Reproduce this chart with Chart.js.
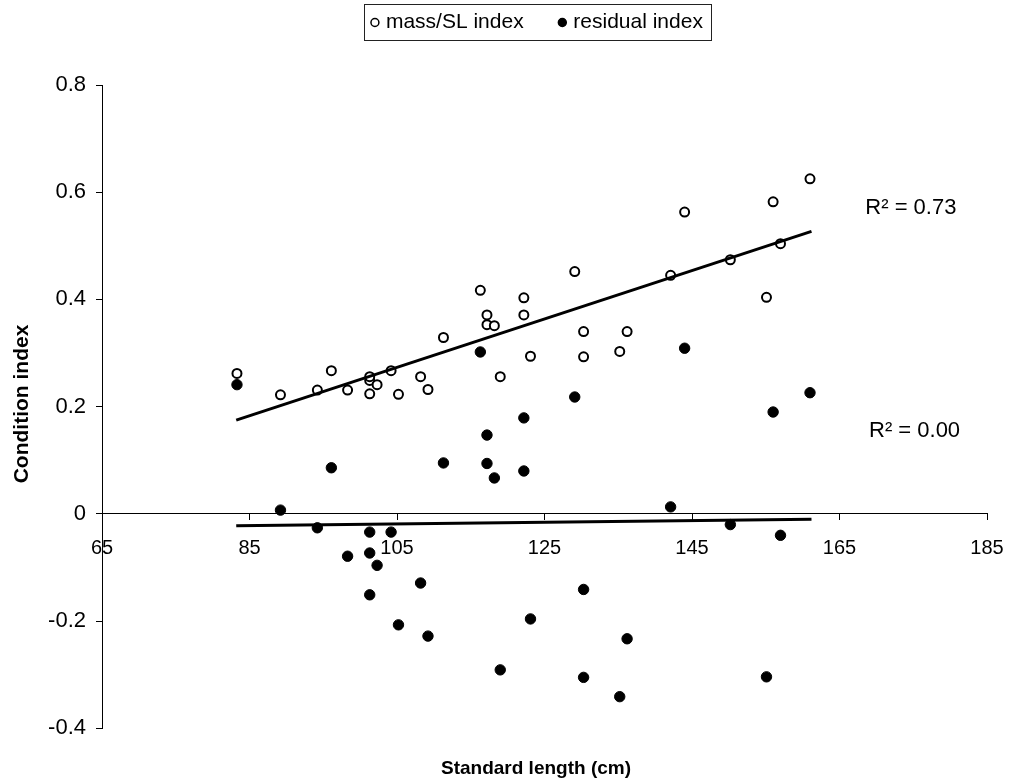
<!DOCTYPE html>
<html>
<head>
<meta charset="utf-8">
<script src="https://cdn.jsdelivr.net/npm/chart.js@4.4.1/dist/chart.umd.min.js"></script>
<style>html,body{margin:0;padding:0;background:#fff}canvas{display:block}</style>
</head>
<body>
<canvas id="c" width="1009" height="782"></canvas>
<script>
// ---- data ----
const seriesNames = ['mass/SL index', 'residual index'];
const lengths = [83.3, 89.2, 94.2, 96.1, 98.3, 101.3, 101.3, 101.3, 102.3, 104.2, 105.2, 108.2, 109.2, 111.3, 116.3, 117.2, 117.2, 118.2, 119.0, 122.2, 122.2, 123.1, 129.1, 130.3, 130.3, 135.2, 136.2, 142.1, 144.0, 150.2, 155.1, 156.0, 157.0, 161.0];
const massIndex = [0.262, 0.222, 0.231, 0.267, 0.231, 0.249, 0.256, 0.224, 0.241, 0.267, 0.223, 0.256, 0.232, 0.329, 0.417, 0.371, 0.353, 0.351, 0.256, 0.403, 0.371, 0.294, 0.452, 0.340, 0.293, 0.303, 0.340, 0.445, 0.563, 0.474, 0.404, 0.582, 0.504, 0.625];
const residualIndex = [0.241, 0.007, -0.026, 0.086, -0.079, -0.034, -0.073, -0.151, -0.096, -0.034, -0.207, -0.129, -0.228, 0.095, 0.302, 0.147, 0.094, 0.067, -0.291, 0.179, 0.080, -0.196, 0.218, -0.141, -0.305, -0.341, -0.233, 0.013, 0.309, -0.020, -0.304, 0.190, -0.040, 0.226];
const trendX = [83.2, 161.2];
const massTrend = [0.175, 0.527];
const residualTrend = [-0.022, -0.010];
const rSquaredLabels = ['R\u00B2 = 0.73', 'R\u00B2 = 0.00'];
const xTickValues = [65, 85, 105, 125, 145, 165, 185];
const yTickValues = [-0.4, -0.2, 0, 0.2, 0.4, 0.6, 0.8];
const xTitle = 'Standard length (cm)';
const yTitle = 'Condition index';

const FONT = "'Liberation Sans', Arial, Helvetica, sans-serif";
const LEGEND_SIZE = 21;
const toPts = (xs, ys) => xs.map((x, i) => ({x: x, y: ys[i]}));

const annotations = {
  id: 'annotations',
  afterDraw(chart) {
    const {ctx, scales: {x, y}} = chart;
    ctx.save();
    // legend frame
    const lg = chart.legend;
    const hb = lg.legendHitBoxes;
    if (hb && hb.length) {
      ctx.font = LEGEND_SIZE + 'px ' + FONT;
      const first = hb[0], last = hb[hb.length - 1];
      const lastText = lg.legendItems[lg.legendItems.length - 1].text.trim();
      const l = first.left + 0.5 - 11;
      const r = last.left + 1 + LEGEND_SIZE / 2 + ctx.measureText(lastText).width + 8;
      const t = first.top - 8, b = first.top + first.height + 7;
      ctx.strokeStyle = '#222';
      ctx.lineWidth = 1;
      ctx.strokeRect(Math.round(l) + 0.5, Math.round(t) + 0.5, Math.round(r - l), Math.round(b - t));
    }
    ctx.fillStyle = '#000';
    // R squared labels
    ctx.font = '22px ' + FONT;
    ctx.textAlign = 'left';
    ctx.textBaseline = 'middle';
    ctx.fillText(rSquaredLabels[0], x.getPixelForValue(168.5), y.getPixelForValue(0.571));
    ctx.fillText(rSquaredLabels[1], x.getPixelForValue(169.0), y.getPixelForValue(0.154));
    // x axis title
    ctx.font = 'bold 19px ' + FONT;
    ctx.textAlign = 'center';
    ctx.fillText(xTitle, 536, 769);
    // y axis title
    ctx.font = 'bold 21px ' + FONT;
    ctx.translate(22, 404);
    ctx.rotate(-Math.PI / 2);
    ctx.fillText(yTitle, 0, 0);
    ctx.restore();
  }
};

new Chart(document.getElementById('c'), {
  type: 'scatter',
  data: {
    datasets: [
      {label: seriesNames[0], data: toPts(lengths, massIndex), pointStyle: 'circle', pointRadius: 4.5, pointHoverRadius: 4.5,
       pointBorderWidth: 2, borderColor: '#000', backgroundColor: '#fff', order: 2},
      {label: seriesNames[1], data: toPts(lengths, residualIndex), pointStyle: 'circle', pointRadius: 5.2, pointHoverRadius: 5.2,
       pointBorderWidth: 1, borderColor: '#000', backgroundColor: '#000', order: 2},
      {label: 'trend1', data: toPts(trendX, massTrend), showLine: true, pointRadius: 0, borderColor: '#000', borderWidth: 3, fill: false, order: 1},
      {label: 'trend2', data: toPts(trendX, residualTrend), showLine: true, pointRadius: 0, borderColor: '#000', borderWidth: 3, fill: false, order: 1}
    ]
  },
  options: {
    responsive: false,
    animation: false,
    devicePixelRatio: 1,
    layout: {padding: {left: 40, right: 22, top: 3, bottom: 53.7}},
    plugins: {
      tooltip: {enabled: false},
      legend: {
        position: 'top',
        align: 'center',
        fullSize: false,
        labels: {
          usePointStyle: true,
          boxWidth: 1,
          boxHeight: 5.6,
          padding: 9,
          color: '#000',
          font: {family: FONT, size: LEGEND_SIZE},
          generateLabels: (chart) => Chart.defaults.plugins.legend.labels.generateLabels(chart)
            .filter(it => it.datasetIndex < 2)
            .map(it => { it.text = it.text + (it.datasetIndex === 0 ? '     ' : '  '); it.lineWidth = 1.5; return it; })
        }
      },
      subtitle: {display: true, text: '', position: 'top', weight: 500, font: {size: 10}, padding: {top: 30, bottom: 0}},
      title: {display: false}
    },
    scales: {
      x: {
        type: 'linear',
        position: {y: 0},
        min: 65, max: 185,
        afterBuildTicks: (s) => { s.ticks = xTickValues.map(v => ({value: v})); },
        afterFit: (s) => { s.paddingLeft = 0; s.paddingRight = 0; },
        ticks: {color: '#000', font: {family: FONT, size: 20}, padding: 17, maxRotation: 0, autoSkip: false},
        grid: {drawOnChartArea: false, drawTicks: true, tickLength: 6, color: '#000'},
        border: {display: true, color: '#000', width: 1}
      },
      y: {
        type: 'linear',
        position: 'left',
        min: -0.4, max: 0.8,
        afterBuildTicks: (s) => { s.ticks = yTickValues.map(v => ({value: v})); },
        afterFit: (s) => { s.width = 62; },
        ticks: {color: '#000', font: {family: FONT, size: 22}, padding: 10, autoSkip: false,
          callback: (v) => Math.abs(v) < 1e-9 ? '0' : Number(v).toFixed(1)},
        grid: {drawOnChartArea: false, drawTicks: true, tickLength: 6, color: '#000'},
        border: {display: true, color: '#000', width: 1}
      }
    }
  },
  plugins: [annotations]
});
</script>
</body>
</html>
